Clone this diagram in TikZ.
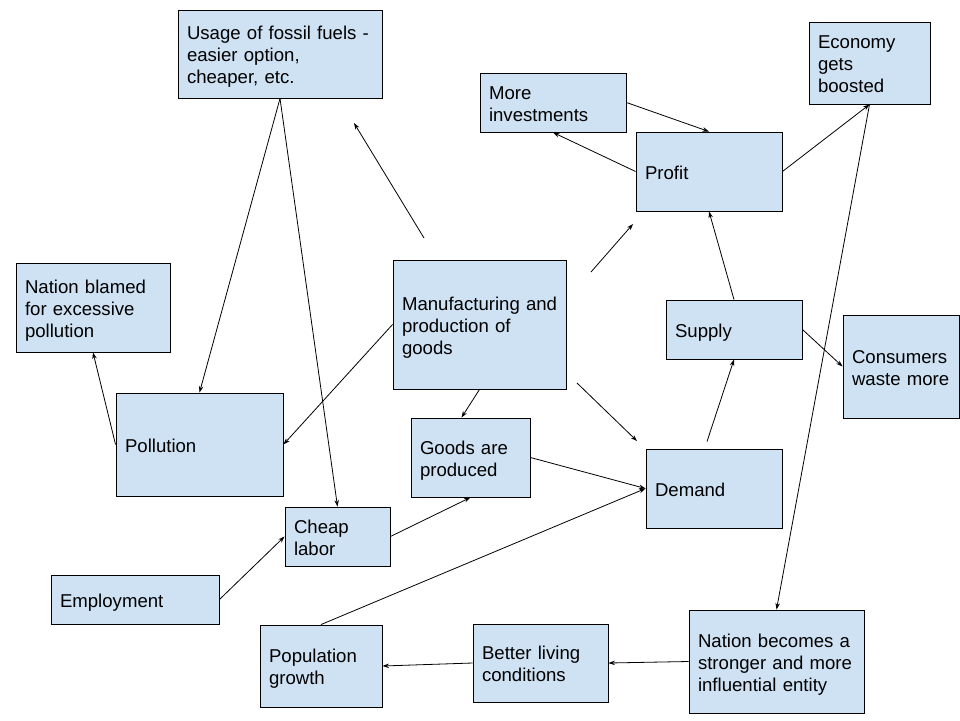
\documentclass[tikz,border=0pt]{standalone}
\usepackage{fontspec}
\setmainfont{Liberation Sans}
\usetikzlibrary{arrows.meta}
\definecolor{boxblue}{HTML}{CFE2F3}
\newcommand{\topstrt}{\rule{0pt}{19pt}}
\newcommand{\botstrt}{\rule[-4pt]{0pt}{4pt}}
\begin{document}
\begin{tikzpicture}[x=1pt,y=-1pt,
  box/.style={draw=black, fill=boxblue, line width=0.9pt, inner xsep=9pt, inner ysep=0pt,
    align=left, font=\fontsize{18.6}{22}\selectfont, anchor=center},
  conn/.style={line width=0.8pt, -{Stealth[length=6.5pt,width=4.5pt]}}]
\fill[white] (0,0) rectangle (960,720);
\useasboundingbox (0,0) rectangle (960,720);

\node[box, text width=186pt, minimum height=88pt] (fossil) at (280,54) {\topstrt\mbox{Usage of fossil fuels -}\\\mbox{easier option,}\\\mbox{cheaper, etc.}\botstrt};
\node[box, text width=128pt, minimum height=59pt] (invest) at (553,102.5) {\topstrt More\\investments\botstrt};
\node[box, text width=128pt, minimum height=79pt] (profit) at (709,171.5) {\topstrt Profit\botstrt};
\node[box, text width=103pt, minimum height=82pt] (econ) at (869.5,63) {\topstrt Economy\\gets\\boosted\botstrt};
\node[box, text width=136pt, minimum height=89pt] (blamed) at (93,307.5) {\topstrt\mbox{Nation blamed}\\\mbox{for excessive}\\pollution\botstrt};
\node[box, text width=155pt, minimum height=129pt] (manuf) at (479.5,324.5) {\topstrt\mbox{Manufacturing and}\\\mbox{production of}\\goods\botstrt};
\node[box, text width=118pt, minimum height=59pt] (supply) at (734,329.5) {\topstrt Supply\botstrt};
\node[box, text width=98pt, minimum height=103pt] (consumers) at (901,366.5) {\topstrt\mbox{Consumers}\\\mbox{waste more}\botstrt};
\node[box, text width=149pt, minimum height=103pt] (pollution) at (199.5,444.5) {\topstrt Pollution\botstrt};
\node[box, text width=101pt, minimum height=79pt] (goods) at (470.5,457.5) {\topstrt\mbox{Goods are}\\produced\botstrt};
\node[box, text width=118pt, minimum height=79pt] (demand) at (714,488.5) {\topstrt Demand\botstrt};
\node[box, text width=87pt, minimum height=59pt] (cheap) at (337.5,536.5) {\topstrt Cheap\\labor\botstrt};
\node[box, text width=150pt, minimum height=49pt] (employ) at (135,599.5) {\topstrt Employment\botstrt};
\node[box, text width=104pt, minimum height=82pt] (popul) at (321,666) {\topstrt\mbox{Population}\\growth\botstrt};
\node[box, text width=117pt, minimum height=78pt] (better) at (540.5,663) {\topstrt\mbox{Better living}\\conditions\botstrt};
\node[box, text width=157pt, minimum height=103pt] (stronger) at (776.5,661.5) {\topstrt\mbox{Nation becomes a}\\\mbox{stronger and more}\\\mbox{influential entity}\botstrt};

\coordinate (fa1) at (424,238);
\coordinate (fb1) at (354,123);
\coordinate (fa2) at (591,272);
\coordinate (fb2) at (633,224);
\coordinate (fa3) at (577,383);
\coordinate (fb3) at (637,441);

\draw[conn] (fossil.south) -- (pollution.north);
\draw[conn] (fossil.south) -- (cheap.north);
\draw[conn] (fa1) -- (fb1);
\draw[conn] (fa2) -- (fb2);
\draw[conn] (fa3) -- (fb3);
\draw[conn] (manuf.west) -- (pollution.east);
\draw[conn] (manuf.south) -- ([xshift=-9pt]goods.north);
\draw[conn] (goods.east) -- (demand.west);
\draw[conn] (cheap.east) -- (goods.south);
\draw[conn] (employ.east) -- (cheap.west);
\draw[conn] (popul.north) -- (demand.west);
\draw[conn] (stronger.west) -- (better.east);
\draw[conn] (better.west) -- (popul.east);
\draw[conn] (profit.east) -- (econ.south);
\draw[conn] (econ.south) -- (stronger.north);
\draw[conn] (profit.west) -- (invest.south);
\draw[conn] (invest.east) -- (profit.north);
\draw[conn] (supply.north) -- (profit.south);
\draw[conn] ([xshift=-7pt,yshift=7pt]demand.north) -- (supply.south);
\draw[conn] (supply.east) -- (consumers.west);
\draw[conn] (pollution.west) -- (blamed.south);
\end{tikzpicture}
\end{document}
